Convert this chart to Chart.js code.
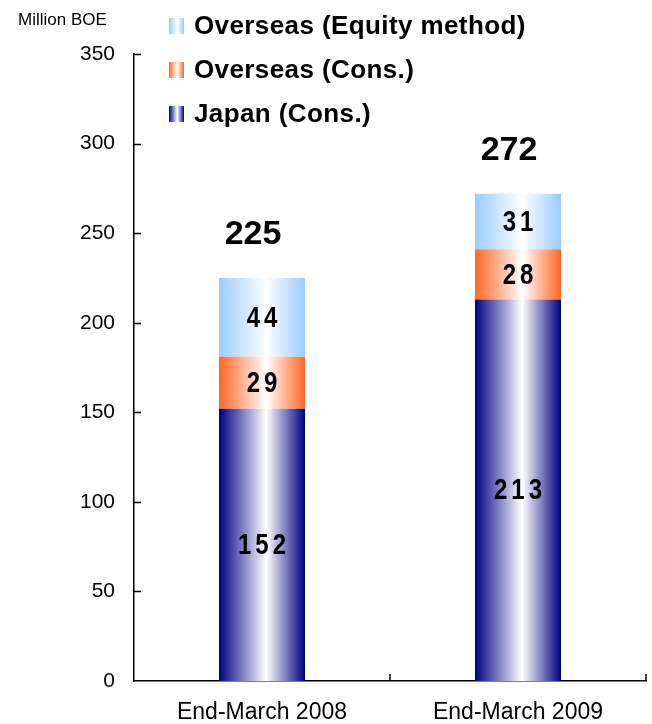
<!DOCTYPE html>
<html>
<head>
<meta charset="utf-8">
<script src="https://cdn.jsdelivr.net/npm/chart.js@4"></script>
<style>
    html, body { margin: 0; padding: 0; background: #fff; }
    #wrap { width: 652px; height: 724px; position: relative; }
</style>
</head>
<body>
<div id="wrap"><canvas id="reservesChart"></canvas></div>
<script>
const categories = ['End-March 2008', 'End-March 2009'];
const japanCons = [152, 213];
const overseasCons = [29, 28];
const overseasEquity = [44, 31];
const yTicks = [0, 50, 100, 150, 200, 250, 300, 350];
const unitLabel = 'Million BOE';

const seriesNames = ['Japan (Cons.)', 'Overseas (Cons.)', 'Overseas (Equity method)'];
const edgeColors = ['#000080', '#ff6622', '#99ccff'];
const BAR_PCT = 0.336;
const FONT = '"Liberation Sans", Arial, sans-serif';

function barGradient(ctx, i) {
    const chart = ctx.chart;
    if (!chart.chartArea) return edgeColors[i];
    const xs = chart.scales.x;
    const w = xs.width / categories.length * BAR_PCT;
    const cx = xs.getPixelForValue(ctx.dataIndex);
    const g = chart.ctx.createLinearGradient(cx - w / 2, 0, cx + w / 2, 0);
    g.addColorStop(0, edgeColors[i]);
    g.addColorStop(0.55, '#ffffff');
    g.addColorStop(1, edgeColors[i]);
    return g;
}

const extras = {
    id: 'extras',
    afterDraw(chart) {
        const c = chart.ctx;
        const area = chart.chartArea;
        c.save();
        c.fillStyle = '#000';
        c.strokeStyle = '#000';
        c.lineWidth = 1.5;

        // inward tick marks
        chart.scales.y.ticks.forEach(t => {
            if (t.value === 0) return;
            const y = Math.round(chart.scales.y.getPixelForValue(t.value)) + 0.5;
            c.beginPath(); c.moveTo(area.left, y); c.lineTo(area.left + 7, y); c.stroke();
        });
        const step = chart.scales.x.width / categories.length;
        for (let k = 1; k <= categories.length; k++) {
            const x = area.left + step * k;
            c.beginPath(); c.moveTo(x, area.bottom); c.lineTo(x, area.bottom - 7); c.stroke();
        }

        // unit label
        c.font = '17px ' + FONT;
        c.textAlign = 'left';
        c.textBaseline = 'middle';
        c.fillText(unitLabel, 18, 20);

        // legend
        const order = [2, 1, 0];
        order.forEach((i, row) => {
            const y = 26 + row * 44;
            const g = c.createLinearGradient(169, 0, 184, 0);
            g.addColorStop(0, edgeColors[i]);
            g.addColorStop(0.55, '#fff');
            g.addColorStop(1, edgeColors[i]);
            c.fillStyle = g;
            c.fillRect(169, y - 8, 15, 16);
            c.fillStyle = '#000';
            c.font = 'bold 26px ' + FONT;
            c.letterSpacing = '0.4px';
            c.fillText(seriesNames[i], 194, y + 1);
        });

        // segment values (narrow, spaced digits)
        c.textAlign = 'center';
        c.font = 'bold 30px ' + FONT;
        c.letterSpacing = '5px';
        chart.data.datasets.forEach((ds, di) => {
            chart.getDatasetMeta(di).data.forEach((el, j) => {
                c.save();
                c.translate(el.x + 2, (el.y + el.base) / 2 + 1);
                c.scale(0.8, 1);
                c.fillText(String(ds.data[j]), 0, 0);
                c.restore();
            });
        });

        // totals
        c.letterSpacing = '0px';
        c.font = 'bold 34px ' + FONT;
        const topMeta = chart.getDatasetMeta(chart.data.datasets.length - 1);
        topMeta.data.forEach((el, j) => {
            const total = japanCons[j] + overseasCons[j] + overseasEquity[j];
            c.fillText(String(total), el.x - 9, el.y - 43);
        });
        c.restore();
    }
};

new Chart(document.getElementById('reservesChart'), {
    type: 'bar',
    data: {
        labels: categories,
        datasets: [
            { label: seriesNames[0], data: japanCons, backgroundColor: ctx => barGradient(ctx, 0) },
            { label: seriesNames[1], data: overseasCons, backgroundColor: ctx => barGradient(ctx, 1) },
            { label: seriesNames[2], data: overseasEquity, backgroundColor: ctx => barGradient(ctx, 2) }
        ]
    },
    options: {
        responsive: true,
        maintainAspectRatio: false,
        animation: false,
        layout: { padding: { top: 54, right: 6, left: 0, bottom: 0 } },
        datasets: { bar: { barPercentage: BAR_PCT, categoryPercentage: 1, borderWidth: 0 } },
        plugins: { legend: { display: false }, tooltip: { enabled: false } },
        scales: {
            x: {
                stacked: true,
                grid: { display: false, drawTicks: false },
                border: { display: true, color: '#000', width: 1.5 },
                ticks: { color: '#000', padding: 18, font: { size: 23, family: FONT } },
                afterFit: s => { s.height = 43; }
            },
            y: {
                stacked: true,
                min: 0,
                max: 350,
                afterBuildTicks: s => { s.ticks = yTicks.map(v => ({ value: v })); },
                grid: { display: false, drawTicks: false },
                border: { display: true, color: '#000', width: 1.5 },
                ticks: { color: '#000', padding: 19, font: { size: 21, family: FONT } },
                afterFit: s => { s.width = 134; }
            }
        }
    },
    plugins: [extras]
});
</script>
</body>
</html>
